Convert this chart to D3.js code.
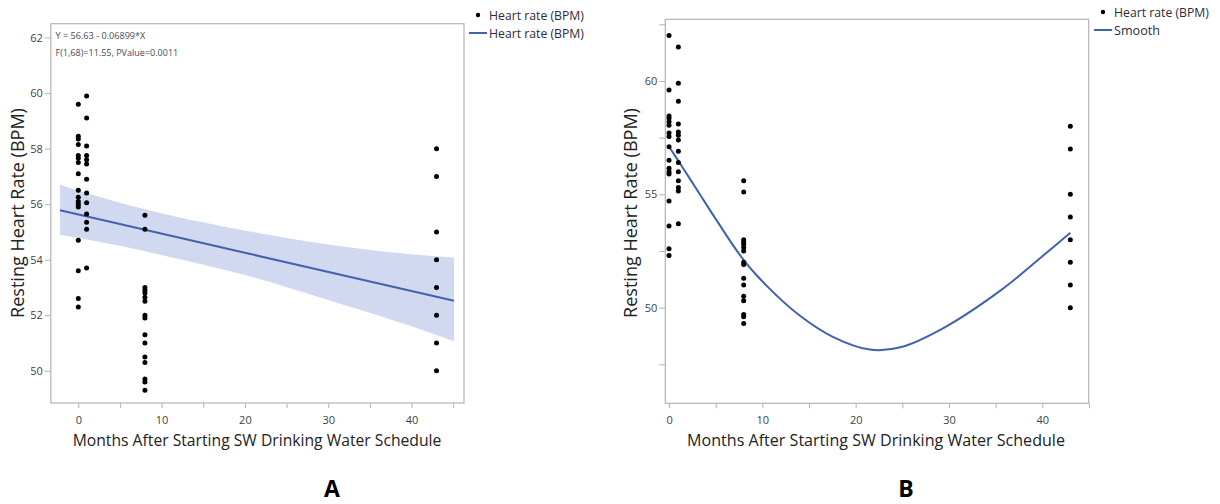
<!DOCTYPE html>
<html>
<head>
<meta charset="utf-8">
<script src="https://cdn.jsdelivr.net/npm/d3@7"></script>
<style>
  body { margin: 0; background: #fff; }
  text { font-family: "Open Sans", "Noto Sans", sans-serif; }
</style>
</head>
<body>
<svg id="chart" width="1220" height="504"></svg>
<script>
// values
const hrA_m0 = [59.6, 58.45, 58.35, 58.15, 57.75, 57.65, 57.5, 57.1, 56.5, 56.25, 56.1, 56.0, 55.9, 54.7, 53.6, 52.6, 52.3]
const hrA_m1 = [59.9, 59.1, 58.1, 57.75, 57.6, 57.45, 56.9, 56.4, 56.05, 55.65, 55.35, 55.1, 53.7]
const hrB_m0 = [62.0, 59.6, 58.45, 58.35, 58.2, 58.05, 57.7, 57.55, 57.1, 56.5, 56.15, 56.0, 55.9, 54.7, 53.6, 52.6, 52.3]
const hrB_m1 = [61.5, 59.9, 59.1, 58.1, 57.75, 57.6, 57.4, 56.9, 56.4, 56.0, 55.6, 55.3, 55.15, 53.7]
const hr_m8 = [55.6, 55.1, 53.0, 52.9, 52.8, 52.65, 52.5, 52.0, 51.9, 51.3, 51.0, 50.5, 50.3, 49.7, 49.6, 49.3]
const hr_m43 = [58, 57, 55, 54, 53, 52, 51, 50]

// panel A regression line and confidence band
const fitX = [-2.2, 45.1]
const fitY = [55.78, 52.52]
const bandX = [-2.2, 5, 11, 20, 30, 40, 45.1]
const bandUpper = [56.7, 56.05, 55.6, 55.05, 54.55, 54.2, 54.08]
const bandLower = [54.9, 54.5, 54.1, 53.45, 52.55, 51.6, 51.06]

// panel B smoother
const smoothX = [0, 1.2, 3.3, 5.1, 8, 10.5, 14, 17.6, 21.5, 24.8, 29.4, 35.5, 40.1, 43]
const smoothY = [57.1, 56.35, 55.0, 53.85, 52.1, 50.95, 49.65, 48.7, 48.15, 48.25, 49.1, 50.75, 52.3, 53.3]

// tick values
const xMajor = [0, 10, 20, 30, 40]
const xMinor = [5, 15, 25, 35, 45]
const yTicksA = [50, 52, 54, 56, 58, 60, 62]
const yMajorB = [50, 55, 60]
const yMinorB = [47.5, 52.5, 57.5, 62.5]

const eqLines = ['Y = 56.63 - 0.06899*X', 'F(1,68)=11.55, PValue=0.0011']
const xTitle = 'Months After Starting SW Drinking Water Schedule'
const yTitle = 'Resting Heart Rate (BPM)'

const lineBlue = '#4362ad'
const bandBlue = '#d0d9ef'
const frameGray = '#b3b3b3'

const svg = d3.select('#chart')

function toPoints(m, arr) { return arr.map(v => ({x: m, y: v})) }

function fitText(sel, w) {        // scale font so text has the width seen in the picture
    const cur = sel.node().getComputedTextLength()
    const fs = parseFloat(sel.attr('font-size'))
    sel.attr('font-size', fs * w / cur)
}

function drawPanel(p) {
    const x = d3.scaleLinear().domain(p.xDomain).range([p.left, p.right])
    const y = d3.scaleLinear().domain(p.yDomain).range([p.bottom, p.top])
    const g = svg.append('g')

    // frame
    g.append('rect')
        .attr('x', p.left).attr('y', p.top)
        .attr('width', p.right - p.left).attr('height', p.bottom - p.top)
        .attr('fill', 'none').attr('stroke', frameGray).attr('stroke-width', 1.2)

    // axes
    const xAx = g.append('g').attr('transform', 'translate(0,' + p.bottom + ')')
        .call(d3.axisBottom(x).tickValues(xMajor).tickSize(5).tickPadding(8).tickFormat(d3.format('d')))
    const xAxMinor = g.append('g').attr('transform', 'translate(0,' + p.bottom + ')')
        .call(d3.axisBottom(x).tickValues(xMinor).tickSize(5).tickFormat(''))
    const yAx = g.append('g').attr('transform', 'translate(' + p.left + ',0)')
        .call(d3.axisLeft(y).tickValues(p.yMajor).tickSize(6).tickPadding(2).tickFormat(d3.format('d')))
    const yAxMinor = g.append('g').attr('transform', 'translate(' + p.left + ',0)')
        .call(d3.axisLeft(y).tickValues(p.yMinor).tickSize(6).tickFormat(''))
    ;[xAx, xAxMinor, yAx, yAxMinor].forEach(a => {
        a.select('.domain').remove()
        a.selectAll('line').attr('stroke', frameGray)
        a.selectAll('text').attr('font-size', 11).attr('fill', '#3c3f4a')
    })

    p.extras(g, x, y)

    g.selectAll('.dot')
        .data(p.points)
        .enter().append('circle')
        .attr('class', 'dot')
        .attr('cx', d => x(d.x))
        .attr('cy', d => y(d.y))
        .attr('r', 2.5)
        .attr('fill', '#000')

    // axis titles
    const xt = g.append('text')
        .attr('x', p.xTitleX).attr('y', 446)
        .attr('text-anchor', 'middle').attr('font-size', 17).attr('fill', '#222')
        .text(xTitle)
    fitText(xt, p.xTitleW)
    const yt = g.append('text')
        .attr('transform', 'translate(' + p.yTitleX + ',213) rotate(-90)')
        .attr('text-anchor', 'middle').attr('font-size', 17).attr('fill', '#222')
        .text(yTitle)
    fitText(yt, 210)

    // legend
    const lg = g.append('g')
    lg.append('circle').attr('cx', p.legX + 9).attr('cy', p.legY).attr('r', 2.2).attr('fill', '#000')
    const l1 = lg.append('text').attr('x', p.legX + 20).attr('y', p.legY + 4.5)
        .attr('font-size', 12).attr('fill', '#2c2c3c').text('Heart rate (BPM)')
    fitText(l1, 95)
    lg.append('line')
        .attr('x1', p.legX).attr('x2', p.legX + 18)
        .attr('y1', p.legY + 18).attr('y2', p.legY + 18)
        .attr('stroke', lineBlue).attr('stroke-width', 2)
    const l2 = lg.append('text').attr('x', p.legX + 20).attr('y', p.legY + 22.5)
        .attr('font-size', 12).attr('fill', '#2c2c3c').text(p.legLine)
    fitText(l2, p.legLineW)

    // panel letter
    g.append('text')
        .attr('x', p.letterX).attr('y', 497)
        .attr('text-anchor', 'middle')
        .attr('font-family', '"Liberation Sans", Arial, sans-serif')
        .attr('font-weight', 'bold').attr('font-size', 23).attr('fill', '#000')
        .text(p.letter)
}

// Panel A: linear fit
drawPanel({
    left: 50.8, right: 464, top: 23.7, bottom: 403,
    xDomain: [-3.3, 46.3], yDomain: [48.84, 62.5],
    yMajor: yTicksA, yMinor: [],
    points: [].concat(toPoints(0, hrA_m0), toPoints(1, hrA_m1), toPoints(8, hr_m8), toPoints(43, hr_m43)),
    extras: function(g, x, y) {
        const band = bandX.map((v, i) => ({x: v, lo: bandLower[i], hi: bandUpper[i]}))
        g.append('path')
            .datum(band)
            .attr('fill', bandBlue)
            .attr('d', d3.area().x(d => x(d.x)).y0(d => y(d.lo)).y1(d => y(d.hi)).curve(d3.curveMonotoneX))
        g.append('path')
            .datum(fitX.map((v, i) => ({x: v, y: fitY[i]})))
            .attr('fill', 'none').attr('stroke', lineBlue).attr('stroke-width', 2)
            .attr('d', d3.line().x(d => x(d.x)).y(d => y(d.y)))
        eqLines.forEach((t, i) => {
            const e = g.append('text').attr('x', 55.5).attr('y', 39 + i * 16.5)
                .attr('font-size', 10).attr('fill', '#4a4a55').text(t)
            fitText(e, i === 0 ? 90 : 123)
        })
    },
    xTitleX: 257, xTitleW: 369, yTitleX: 24,
    legX: 469, legY: 15, legLine: 'Heart rate (BPM)', legLineW: 95,
    letter: 'A', letterX: 332
})

// Panel B: smoother
drawPanel({
    left: 665.3, right: 1088.7, top: 19.3, bottom: 403.3,
    xDomain: [-0.4, 44.97], yDomain: [45.78, 62.72],
    yMajor: yMajorB, yMinor: yMinorB,
    points: [].concat(toPoints(0, hrB_m0), toPoints(1, hrB_m1), toPoints(8, hr_m8), toPoints(43, hr_m43)),
    extras: function(g, x, y) {
        g.append('path')
            .datum(smoothX.map((v, i) => ({x: v, y: smoothY[i]})))
            .attr('fill', 'none').attr('stroke', lineBlue).attr('stroke-width', 2)
            .attr('d', d3.line().x(d => x(d.x)).y(d => y(d.y)).curve(d3.curveCatmullRom.alpha(0.5)))
    },
    xTitleX: 876, xTitleW: 378, yTitleX: 637,
    legX: 1094, legY: 12, legLine: 'Smooth', legLineW: 46,
    letter: 'B', letterX: 906
})
</script>
</body>
</html>
